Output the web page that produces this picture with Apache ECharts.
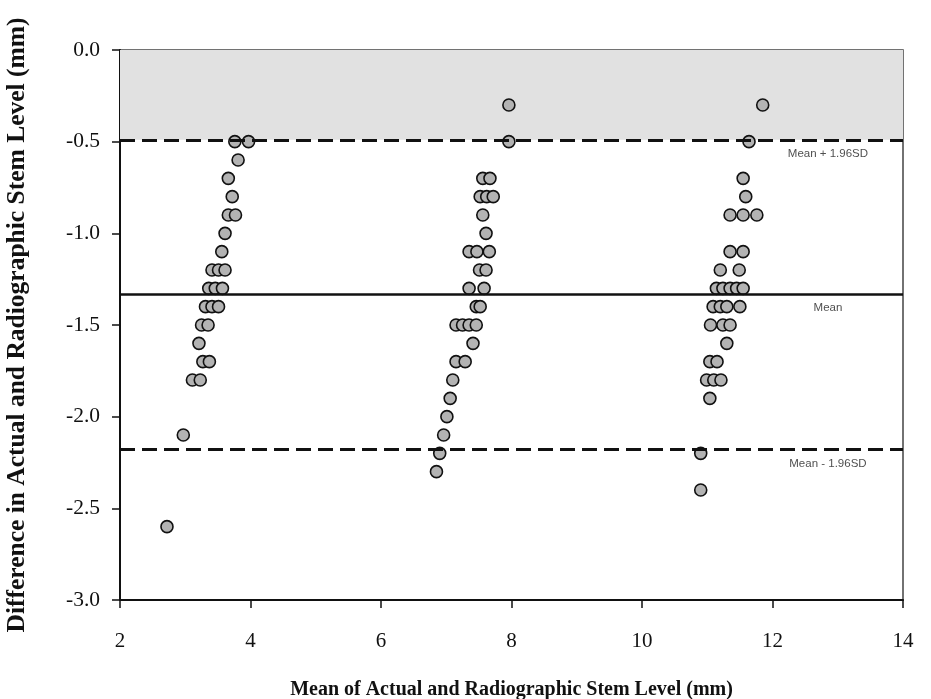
<!DOCTYPE html>
<html>
<head>
<meta charset="utf-8">
<script src="https://cdn.jsdelivr.net/npm/echarts@6/dist/echarts.min.js"></script>
<style>html,body{margin:0;padding:0;background:#fff;}#c{width:931px;height:699px;}</style>
</head>
<body>
<div id="c"></div>
<script>
// Cluster ~4 mm
const c1Mean = [3.76,3.97,3.81,3.66,3.72,3.66,3.77,3.61,3.56,3.41,3.51,3.61,3.36,3.46,3.57,3.31,3.41,3.51,3.25,3.35,3.21,3.27,3.37,3.11,3.23,2.97,2.72];
const c1Diff = [-0.5,-0.5,-0.6,-0.7,-0.8,-0.9,-0.9,-1.0,-1.1,-1.2,-1.2,-1.2,-1.3,-1.3,-1.3,-1.4,-1.4,-1.4,-1.5,-1.5,-1.6,-1.7,-1.7,-1.8,-1.8,-2.1,-2.6];
// Cluster ~7.5 mm
const c2Mean = [7.96,7.96,7.56,7.67,7.52,7.62,7.72,7.56,7.61,7.35,7.47,7.66,7.51,7.61,7.35,7.58,7.46,7.52,7.15,7.25,7.35,7.46,7.41,7.15,7.29,7.10,7.06,7.01,6.96,6.90,6.85];
const c2Diff = [-0.3,-0.5,-0.7,-0.7,-0.8,-0.8,-0.8,-0.9,-1.0,-1.1,-1.1,-1.1,-1.2,-1.2,-1.3,-1.3,-1.4,-1.4,-1.5,-1.5,-1.5,-1.5,-1.6,-1.7,-1.7,-1.8,-1.9,-2.0,-2.1,-2.2,-2.3];
// Cluster ~11.3 mm
const c3Mean = [11.85,11.64,11.55,11.59,11.35,11.55,11.76,11.35,11.55,11.20,11.49,11.14,11.24,11.35,11.45,11.55,11.09,11.20,11.30,11.50,11.05,11.24,11.35,11.30,11.04,11.15,10.99,11.10,11.21,11.04,10.90,10.90];
const c3Diff = [-0.3,-0.5,-0.7,-0.8,-0.9,-0.9,-0.9,-1.1,-1.1,-1.2,-1.2,-1.3,-1.3,-1.3,-1.3,-1.3,-1.4,-1.4,-1.4,-1.4,-1.5,-1.5,-1.5,-1.6,-1.7,-1.7,-1.8,-1.8,-1.8,-1.9,-2.2,-2.4];

const meanDiff = -1.33;
const upperLoA = -0.49;
const lowerLoA = -2.18;
const refLabels = ['Mean + 1.96SD', 'Mean', 'Mean - 1.96SD'];
const refLabelX = 12.85;

const xTicks = {min: 2, max: 14, interval: 2};
const yTicks = {min: -3, max: 0, interval: 0.5};

const pts = [];
[[c1Mean,c1Diff],[c2Mean,c2Diff],[c3Mean,c3Diff]].forEach(([m,d]) => {
  m.forEach((v,i) => pts.push([v, d[i]]));
});

const serif = '"Liberation Serif", "Times New Roman", serif';
const sans = '"Liberation Sans", Arial, sans-serif';

const chart = echarts.init(document.getElementById('c'), null, {renderer: 'canvas'});
chart.setOption({
  animation: false,
  backgroundColor: '#fff',
  grid: {left: 120, right: 28, top: 50, bottom: 99, containLabel: false, outerBoundsMode: 'none', show: true, borderColor: '#444', borderWidth: 1.5, backgroundColor: 'transparent'},
  xAxis: {
    type: 'value', min: xTicks.min, max: xTicks.max, interval: xTicks.interval,
    name: 'Mean of Actual and Radiographic Stem Level (mm)',
    nameLocation: 'middle', nameGap: 80,
    nameTextStyle: {fontFamily: serif, fontWeight: 'bold', fontSize: 20, color: '#111'},
    axisLine: {show: true, onZero: false, lineStyle: {color: '#111', width: 2}},
    axisTick: {show: true, inside: false, length: 8, lineStyle: {color: '#111', width: 1.5}},
    axisLabel: {fontFamily: serif, fontSize: 21, color: '#111', margin: 31},
    splitLine: {show: false}
  },
  yAxis: {
    type: 'value', min: yTicks.min, max: yTicks.max, interval: yTicks.interval,
    name: 'Difference in Actual and Radiographic Stem Level (mm)',
    nameLocation: 'middle', nameGap: 90,
    nameTextStyle: {fontFamily: serif, fontWeight: 'bold', fontSize: 25.5, color: '#111'},
    axisLine: {show: true, onZero: false, lineStyle: {color: '#111', width: 2}},
    axisTick: {show: true, inside: false, length: 8, lineStyle: {color: '#111', width: 1.5}},
    axisLabel: {fontFamily: serif, fontSize: 21.5, color: '#111', margin: 20, formatter: v => v.toFixed(1)},
    splitLine: {show: false}
  },
  series: [
    {
      type: 'scatter',
      data: [],
      markArea: {
        silent: true,
        itemStyle: {color: '#e1e1e1'},
        data: [[{yAxis: 0}, {yAxis: upperLoA}]]
      },
      z: 1
    },
    {
      type: 'scatter',
      data: pts,
      symbol: 'circle',
      symbolSize: 12,
      itemStyle: {color: '#b3b3b3', borderColor: '#111', borderWidth: 1.6, opacity: 1},
      z: 3
    },
    {
      type: 'line',
      data: [],
      z: 4,
      markLine: {
        silent: true,
        symbol: 'none',
        label: {show: false},
        data: [
          {yAxis: upperLoA, lineStyle: {color: '#111', width: 3, type: [15, 7]}},
          {yAxis: meanDiff, lineStyle: {color: '#111', width: 2.5, type: 'solid'}},
          {yAxis: lowerLoA, lineStyle: {color: '#111', width: 3, type: [15, 7]}}
        ]
      }
    },
    {
      type: 'scatter',
      symbolSize: 0,
      data: [[refLabelX, upperLoA, refLabels[0]], [refLabelX, meanDiff, refLabels[1]], [refLabelX, lowerLoA, refLabels[2]]],
      label: {show: true, position: 'bottom', distance: 8, formatter: p => p.data[2], fontFamily: sans, fontSize: 11.5, color: '#222'},
      z: 5,
      silent: true
    }
  ]
});
</script>
</body>
</html>
